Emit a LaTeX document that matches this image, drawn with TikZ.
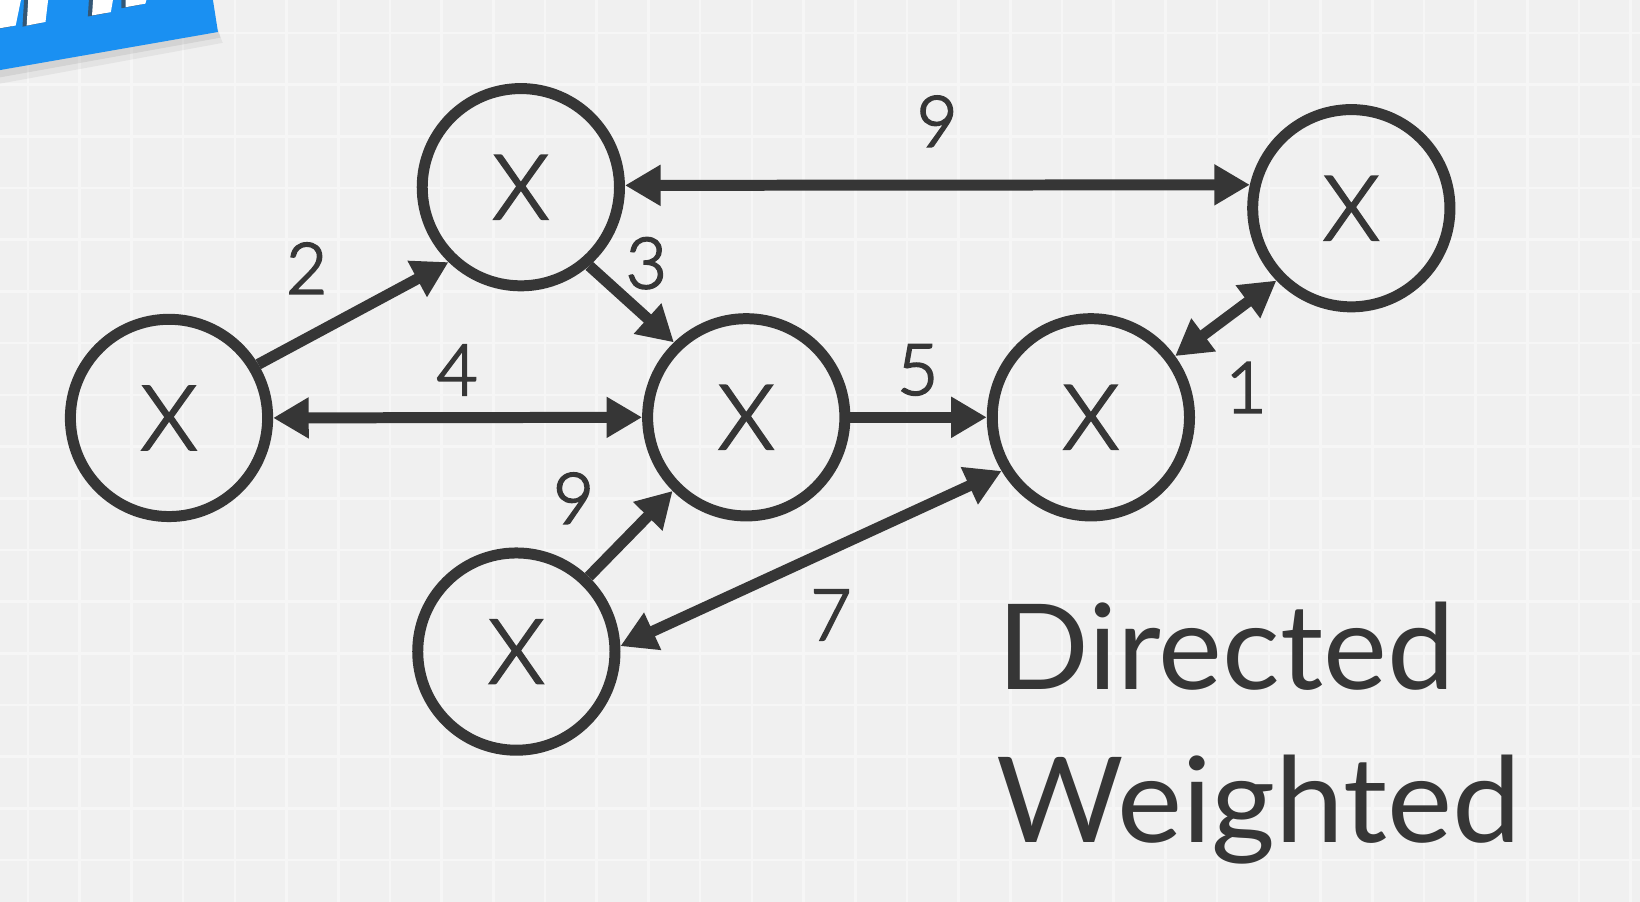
\documentclass[tikz,border=0pt]{standalone}
\usepackage{fontspec}
\setmainfont{Lato}
\newfontfamily\lightfont[FakeBold=3]{Lato Light}
\usetikzlibrary{arrows.meta}
\definecolor{ink}{HTML}{363636}
\definecolor{bg}{HTML}{F0F0F0}
\definecolor{gridc}{HTML}{F6F6F6}
\definecolor{banner}{HTML}{1A90F2}
\begin{document}
\begin{tikzpicture}[x=0.01cm,y=-0.01cm,
  vert/.style={circle,draw=ink,line width=1.05mm,minimum size=1.885cm,inner sep=0pt,text=ink,font=\lightfont\fontsize{24.2}{28}\selectfont},
  wlabel/.style={inner sep=0pt,text=ink,font=\lightfont\fontsize{19.2}{22}\selectfont},
  edge/.style={draw=ink,line width=1.05mm,-{Triangle[length=3.4mm,width=3.7mm]}},
  biedge/.style={draw=ink,line width=1.05mm,{Triangle[length=3.4mm,width=3.7mm]}-{Triangle[length=3.4mm,width=3.7mm]}},
  title/.style={inner sep=0pt,anchor=base west,text=ink,font=\fontsize{32.3}{38}\selectfont}]
\useasboundingbox (0,0) rectangle (1568,862);
\fill[bg] (0,0) rectangle (1568,862);
\foreach \i in {0,...,31} \draw[gridc,line width=0.25mm] ({26.8+49.43*\i},0) -- ({26.8+49.43*\i},862);
\foreach \j in {0,...,17} \draw[gridc,line width=0.25mm] (0,{31.5+49.43*\j}) -- (1568,{31.5+49.43*\j});

% banner
\fill[black,opacity=0.07] (0,64) -- (208.4,28) -- (211,36) -- (0,74) -- cycle;
\fill[black,opacity=0.05] (0,66) -- (208.4,30) -- (213,41) -- (0,80) -- cycle;
\fill[banner] (0,0) -- (203.6,0) -- (208.4,30.6) -- (0,67) -- cycle;
\begin{scope}
\clip (0,0) -- (203.6,0) -- (208.4,30.6) -- (0,67) -- cycle;
\fill[black!75,opacity=0.7] (-4,0) -- (16,0) -- (11,25.4) -- (-4,28) -- cycle;
\fill[black!75,opacity=0.7] (23,0) -- (42,0) -- (39.5,22) -- (21.5,25.5) -- cycle;
\fill[black!75,opacity=0.7] (85,0) -- (104,0) -- (102,12.6) -- (84,15.8) -- cycle;
\fill[black!75,opacity=0.7] (116,0) -- (136,0) -- (135,4.5) -- (116,7.9) -- cycle;
\fill[white] (0,0) -- (20,0) -- (15,24.4) -- (0,27) -- cycle;
\fill[white] (27,0) -- (46,0) -- (43.5,21) -- (25.5,24.5) -- cycle;
\fill[white] (89,0) -- (108,0) -- (106,11.6) -- (88,14.8) -- cycle;
\fill[white] (120,0) -- (140,0) -- (139,3.5) -- (120,6.9) -- cycle;
\end{scope}

% vertices
\node[vert] (A) at (161.6,399.6) {X};
\node[vert] (B) at (498,179) {X};
\node[vert] (C) at (713.5,399) {X};
\node[vert] (D) at (1043,399) {X};
\node[vert] (E) at (1292,199.1) {X};
\node[vert] (F) at (493.7,623) {X};

% edges
\draw[edge] (A.31) -- (B.226);
\draw[edge] (B.311.7) -- (C.134.2);
\draw[biedge] (A.east) -- (C.west);
\draw[biedge] (B.1) -- (E.167.3);
\draw[edge] (C.east) -- (D.west);
\draw[biedge] (D.36.1) -- (E.224);
\draw[edge] (F.46.2) -- (C.225.7);
\draw[biedge] (F.3) -- (D.211.7);

% weights
\node[wlabel] (w2) at (293.2,256.5) {2};
\node[wlabel] (w3) at (618,251.7) {3};
\node[wlabel] (w4) at (437,353.7) {4};
\node[wlabel] (w9a) at (896,116) {9};
\node[wlabel] (w5) at (877.5,353.7) {5};
\node[wlabel] (w1) at (1191.4,370.5) {1};
\node[wlabel] (w9b) at (548.4,476.4) {9};
\node[wlabel] (w7) at (794.5,588) {7};

% titles
\node[title,xscale=1.017] (t1) at (953,659.7) {Directed};
\node[title,xscale=1.037] (t2) at (952,805.6) {Weighted};
\end{tikzpicture}
\end{document}
